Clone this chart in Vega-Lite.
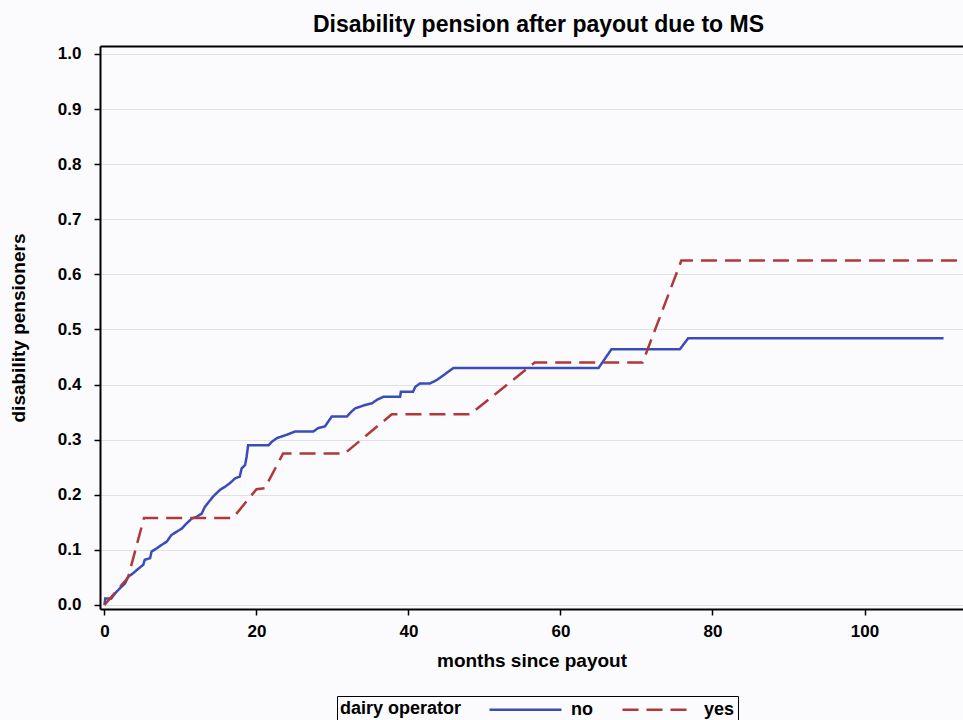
{
  "$schema": "https://vega.github.io/schema/vega-lite/v6.json",
  "autosize": {"type": "none"},
  "width": 863,
  "height": 563,
  "padding": {"left": 100, "top": 46, "right": 0, "bottom": 111},
  "background": "#fbfbfd",
  "title": {
    "text": "Disability pension after payout due to MS",
    "fontSize": 23,
    "fontWeight": "bold",
    "font": "Liberation Sans",
    "color": "#000000",
    "anchor": "middle",
    "offset": 8,
    "dx": 7
  },
  "config": {
    "font": "Liberation Sans",
    "view": {"stroke": null},
    "axis": {
      "labelFont": "Liberation Sans",
      "labelFontWeight": "bold",
      "labelFontSize": 17,
      "labelColor": "#000000",
      "titleFont": "Liberation Sans",
      "titleFontWeight": "bold",
      "titleFontSize": 19,
      "titleColor": "#000000",
      "domainColor": "#000000",
      "domainWidth": 2,
      "tickColor": "#000000",
      "tickWidth": 1.5,
      "tickSize": 6,
      "gridColor": "#dfe1e4",
      "gridWidth": 1
    }
  },
  "data": {
    "values": [
      {"month": 0, "p": 0, "group": "no"},
      {"month": 0.1, "p": 0.012, "group": "no"},
      {"month": 0.9, "p": 0.012, "group": "no"},
      {"month": 1.4, "p": 0.021, "group": "no"},
      {"month": 2, "p": 0.03, "group": "no"},
      {"month": 2.7, "p": 0.039, "group": "no"},
      {"month": 3.1, "p": 0.051, "group": "no"},
      {"month": 3.8, "p": 0.058, "group": "no"},
      {"month": 4.3, "p": 0.064, "group": "no"},
      {"month": 5.1, "p": 0.073, "group": "no"},
      {"month": 5.3, "p": 0.082, "group": "no"},
      {"month": 6, "p": 0.085, "group": "no"},
      {"month": 6.2, "p": 0.097, "group": "no"},
      {"month": 6.9, "p": 0.103, "group": "no"},
      {"month": 7.5, "p": 0.109, "group": "no"},
      {"month": 8.2, "p": 0.115, "group": "no"},
      {"month": 8.8, "p": 0.127, "group": "no"},
      {"month": 9.5, "p": 0.133, "group": "no"},
      {"month": 10.2, "p": 0.139, "group": "no"},
      {"month": 10.8, "p": 0.148, "group": "no"},
      {"month": 11.5, "p": 0.157, "group": "no"},
      {"month": 12.1, "p": 0.16, "group": "no"},
      {"month": 12.8, "p": 0.166, "group": "no"},
      {"month": 13.2, "p": 0.178, "group": "no"},
      {"month": 13.9, "p": 0.19, "group": "no"},
      {"month": 14.3, "p": 0.197, "group": "no"},
      {"month": 15.2, "p": 0.209, "group": "no"},
      {"month": 15.9, "p": 0.215, "group": "no"},
      {"month": 16.5, "p": 0.221, "group": "no"},
      {"month": 17.2, "p": 0.23, "group": "no"},
      {"month": 17.8, "p": 0.233, "group": "no"},
      {"month": 18.05, "p": 0.248, "group": "no"},
      {"month": 18.5, "p": 0.254, "group": "no"},
      {"month": 18.7, "p": 0.269, "group": "no"},
      {"month": 18.9, "p": 0.29, "group": "no"},
      {"month": 21.6, "p": 0.29, "group": "no"},
      {"month": 22, "p": 0.296, "group": "no"},
      {"month": 22.7, "p": 0.303, "group": "no"},
      {"month": 24, "p": 0.309, "group": "no"},
      {"month": 25.1, "p": 0.315, "group": "no"},
      {"month": 27.5, "p": 0.315, "group": "no"},
      {"month": 28.1, "p": 0.321, "group": "no"},
      {"month": 29, "p": 0.324, "group": "no"},
      {"month": 29.9, "p": 0.342, "group": "no"},
      {"month": 31.9, "p": 0.342, "group": "no"},
      {"month": 32.5, "p": 0.351, "group": "no"},
      {"month": 33, "p": 0.357, "group": "no"},
      {"month": 34.3, "p": 0.363, "group": "no"},
      {"month": 35.2, "p": 0.366, "group": "no"},
      {"month": 35.8, "p": 0.372, "group": "no"},
      {"month": 36.7, "p": 0.378, "group": "no"},
      {"month": 38.9, "p": 0.378, "group": "no"},
      {"month": 39, "p": 0.387, "group": "no"},
      {"month": 40.6, "p": 0.387, "group": "no"},
      {"month": 40.9, "p": 0.396, "group": "no"},
      {"month": 41.5, "p": 0.402, "group": "no"},
      {"month": 42.8, "p": 0.402, "group": "no"},
      {"month": 43.7, "p": 0.408, "group": "no"},
      {"month": 44.6, "p": 0.417, "group": "no"},
      {"month": 45.5, "p": 0.426, "group": "no"},
      {"month": 45.9, "p": 0.43, "group": "no"},
      {"month": 65, "p": 0.43, "group": "no"},
      {"month": 65.9, "p": 0.448, "group": "no"},
      {"month": 66.7, "p": 0.464, "group": "no"},
      {"month": 75.7, "p": 0.464, "group": "no"},
      {"month": 76.8, "p": 0.484, "group": "no"},
      {"month": 110.4, "p": 0.484, "group": "no"},
      {"month": 0, "p": 0, "group": "yes"},
      {"month": 3.1, "p": 0.05, "group": "yes"},
      {"month": 5.2, "p": 0.158, "group": "yes"},
      {"month": 16.9, "p": 0.158, "group": "yes"},
      {"month": 20, "p": 0.21, "group": "yes"},
      {"month": 21.1, "p": 0.212, "group": "yes"},
      {"month": 23.5, "p": 0.275, "group": "yes"},
      {"month": 31.6, "p": 0.275, "group": "yes"},
      {"month": 37.8, "p": 0.346, "group": "yes"},
      {"month": 48.1, "p": 0.346, "group": "yes"},
      {"month": 56.6, "p": 0.44, "group": "yes"},
      {"month": 70.8, "p": 0.44, "group": "yes"},
      {"month": 75.9, "p": 0.625, "group": "yes"},
      {"month": 115, "p": 0.625, "group": "yes"}
    ]
  },
  "layer": [
    {
      "mark": {"type": "line", "strokeWidth": 2.5, "clip": true},
      "encoding": {
        "x": {
          "field": "month",
          "type": "quantitative",
          "scale": {"domain": [-0.59, 112.96], "nice": false, "zero": false},
          "axis": {
            "values": [0, 20, 40, 60, 80, 100],
            "grid": false,
            "title": "months since payout",
            "labelPadding": 8,
            "titlePadding": 12
          }
        },
        "y": {
          "field": "p",
          "type": "quantitative",
          "scale": {"domain": [-0.00726, 1.0145], "nice": false, "zero": false},
          "axis": {
            "values": [0, 0.1, 0.2, 0.3, 0.4, 0.5, 0.6, 0.7, 0.8, 0.9, 1.0],
            "format": ".1f",
            "grid": true,
            "title": "disability pensioners",
            "labelPadding": 13,
            "titlePadding": 29
          }
        },
        "color": {
          "field": "group",
          "type": "nominal",
          "title": "dairy operator",
          "scale": {"domain": ["no", "yes"], "range": ["#3a4cb8", "#b03838"]},
          "legend": {
            "orient": "none",
            "legendX": 237,
            "legendY": 650,
            "direction": "horizontal",
            "titleOrient": "left",
            "titleFontSize": 18,
            "titleFontWeight": "bold",
            "titleColor": "#000000",
            "titlePadding": 53,
            "labelFontSize": 18,
            "labelFontWeight": "bold",
            "labelColor": "#000000",
            "labelOffset": 35,
            "columnPadding": 24,
            "symbolType": "M-4,0L4,0",
            "symbolSize": 324,
            "symbolStrokeWidth": 2.5,
            "strokeColor": "#000000",
            "padding": 3
          }
        },
        "strokeDash": {
          "field": "group",
          "type": "nominal",
          "title": "dairy operator",
          "scale": {"domain": ["no", "yes"], "range": [[1, 0], [16, 8]]}
        }
      }
    },
    {
      "mark": {"type": "rule", "strokeWidth": 0, "opacity": 0},
      "encoding": {
        "x": {
          "field": "month",
          "type": "quantitative",
          "aggregate": "min",
          "axis": {
            "orient": "top",
            "labels": false,
            "ticks": false,
            "grid": false,
            "title": null,
            "domain": true
          }
        }
      }
    }
  ],
  "resolve": {"axis": {"x": "independent"}}
}
